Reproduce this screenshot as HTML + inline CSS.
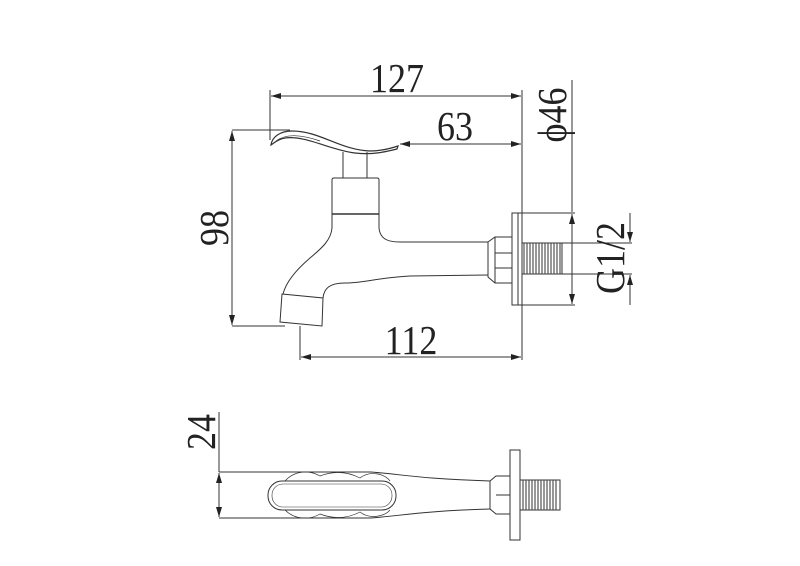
<!DOCTYPE html>
<html><head><meta charset="utf-8"><style>
html,body{margin:0;padding:0;background:#fff;}
svg{display:block}
text{font-family:"Liberation Serif",serif;fill:#222}
</style></head><body>
<svg width="800" height="566" viewBox="0 0 800 566" xmlns="http://www.w3.org/2000/svg">
<defs>
<marker id="a" viewBox="0 0 10 6" refX="10" refY="3" markerWidth="10" markerHeight="6" orient="auto-start-reverse" markerUnits="userSpaceOnUse">
<path d="M0,0 L10,3 L0,6 z" fill="#222"/></marker>
</defs>
<g stroke="#333" stroke-width="1" fill="none">
<line x1="270" y1="90" x2="270" y2="140"/>
<line x1="522" y1="90" x2="522" y2="360"/>
<line x1="232" y1="130" x2="290" y2="130"/>
<line x1="232" y1="326" x2="285" y2="326"/>
<line x1="300" y1="326" x2="300" y2="360"/>
<line x1="512" y1="213" x2="575" y2="213"/>
<line x1="512" y1="305" x2="575" y2="305"/>
<line x1="562" y1="243" x2="632" y2="243"/>
<line x1="562" y1="274" x2="632" y2="274"/>
<line x1="271" y1="96" x2="521" y2="96" marker-start="url(#a)" marker-end="url(#a)"/>
<line x1="400" y1="144" x2="521" y2="144" marker-start="url(#a)" marker-end="url(#a)"/>
<line x1="232" y1="131" x2="232" y2="325" marker-start="url(#a)" marker-end="url(#a)"/>
<line x1="301" y1="357" x2="521" y2="357" marker-start="url(#a)" marker-end="url(#a)"/>
<line x1="572" y1="80" x2="572" y2="212" />
<line x1="572" y1="214" x2="572" y2="304" marker-start="url(#a)" marker-end="url(#a)"/>
<line x1="630" y1="213" x2="630" y2="242" marker-end="url(#a)"/>
<line x1="630" y1="305" x2="630" y2="275" marker-end="url(#a)"/>
<path d="M271,145 C272,137 280,131 292,131 C320,131 340,150 370,151 C382,151 392,148 398,146 L397,149 C385,152 372,155 355,153 C330,150 305,135 285,138 C278,139 274,143 271,145 Z" stroke-width="1.2"/>
<path d="M276,141 C285,134 300,134 320,141" stroke-width="0.7"/>
<line x1="343" y1="152" x2="343" y2="178"/>
<line x1="367" y1="152" x2="367" y2="178"/>
<path d="M332,214 L332,180 Q332,178 334,178 L377,178 Q379,178 379,180 L379,214"/>
<line x1="332" y1="214" x2="379" y2="214" stroke-width="1.5"/>
<path d="M332,214 L332,228 C331,240 322,248 310,258 C296,270 286,282 283,294"/>
<path d="M379,214 L379,228 C380,238 386,242 400,242 L488,242"/>
<path d="M323,298 C324,288 330,283 345,283 C365,283 375,278 410,276 L488,275"/>
<path d="M282,294 L323,298 L322,326 L280,322 Z"/>
<path d="M488,242 L495,237 L512,237 L512,283 L495,283 L488,277 Z"/>
<line x1="495" y1="237" x2="495" y2="283"/>
<line x1="495" y1="253" x2="512" y2="253"/>
<line x1="495" y1="268" x2="512" y2="268"/>
<rect x="512" y="213" width="6" height="92"/>
<rect x="522" y="243" width="40" height="31"/>
</g>
<g stroke="#444" stroke-width="1.1">
<path d="M524,243 L524,274 M527,243 L527,274 M530,243 L530,274 M533,243 L533,274 M536,243 L536,274 M539,243 L539,274 M542,243 L542,274 M545,243 L545,274 M548,243 L548,274 M551,243 L551,274 M554,243 L554,274 M557,243 L557,274 M560,243 L560,274"/>
</g>
<g stroke="#333" stroke-width="1" fill="none">
<line x1="219" y1="412" x2="219" y2="472"/>
<line x1="219" y1="473" x2="219" y2="517" marker-start="url(#a)" marker-end="url(#a)"/>
<path d="M219,472 L370,472 C400,474 420,479 490,481"/>
<path d="M219,518 L370,518 C400,516 420,511 490,509"/>
<rect x="268" y="481" width="128" height="29" rx="14"/>
<rect x="272" y="484" width="120" height="23" rx="11" stroke-width="0.6"/>
<path d="M285,481 C295,470 310,470 320,476 C330,472 345,470 360,478 C370,470 385,474 390,481" stroke-width="0.7"/>
<path d="M285,510 C295,520 310,520 320,514 C330,518 345,520 360,512 C370,520 385,516 390,510" stroke-width="0.7"/>
<path d="M490,481 L496,476 L510,476 L510,514 L496,514 L490,509 Z"/>
<line x1="496" y1="495" x2="510" y2="495"/>
<rect x="510" y="450" width="10" height="90"/>
<rect x="520" y="480" width="40" height="30"/>
</g>
<g stroke="#444" stroke-width="1.1">
<path d="M523,480 L523,510 M526,480 L526,510 M529,480 L529,510 M532,480 L532,510 M535,480 L535,510 M538,480 L538,510 M541,480 L541,510 M544,480 L544,510 M547,480 L547,510 M550,480 L550,510 M553,480 L553,510 M556,480 L556,510"/>
</g>
<text transform="translate(397,92) scale(1,1.15)" font-size="36" text-anchor="middle">127</text>
<text transform="translate(455,140) scale(1,1.15)" font-size="36" text-anchor="middle">63</text>
<text transform="translate(411,354) scale(1,1.15)" font-size="36" text-anchor="middle">112</text>
<text transform="translate(228,228) rotate(-90) scale(1,1.15)" font-size="36" text-anchor="middle">98</text>
<text transform="translate(566,115) rotate(-90) scale(1,1.15)" font-size="36" text-anchor="middle">ϕ46</text>
<text transform="translate(624,258) rotate(-90) scale(1,1.15)" font-size="36" text-anchor="middle">G1/2</text>
<text transform="translate(215,432) rotate(-90) scale(1,1.15)" font-size="36" text-anchor="middle">24</text>
</svg>
</body></html>
